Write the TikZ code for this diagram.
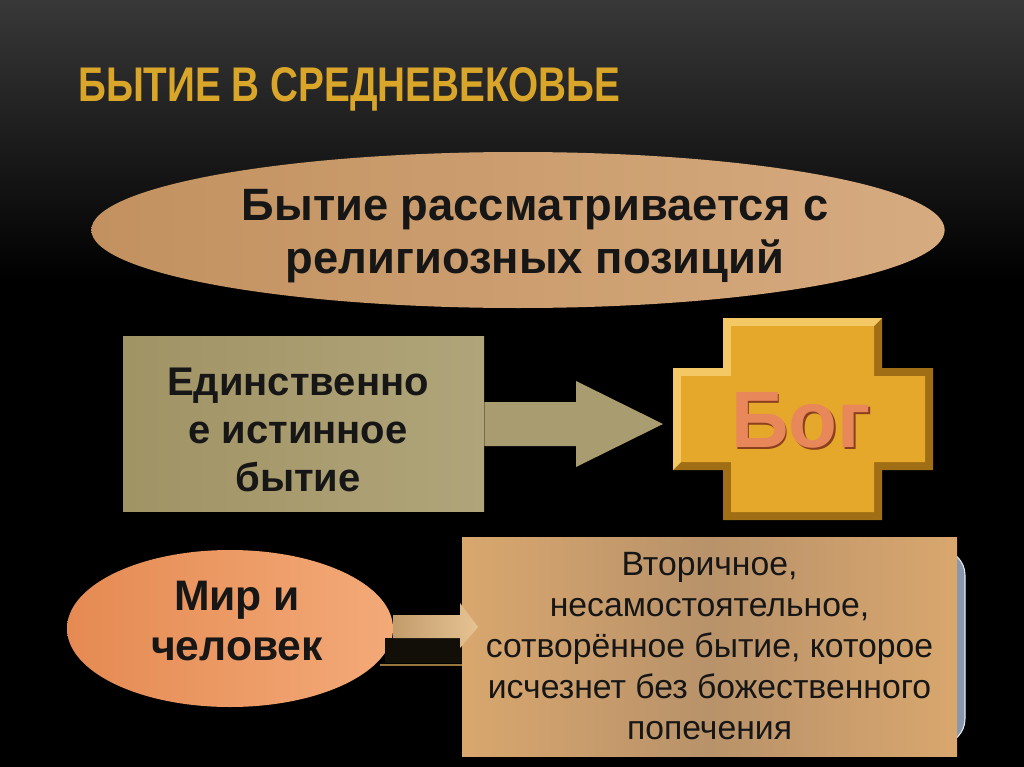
\documentclass[tikz,border=0pt]{standalone}
\usepackage{fontspec}
\setmainfont{Liberation Sans}
\usetikzlibrary{shapes.geometric,calc}
\definecolor{bgtop}{HTML}{383838}
\definecolor{titlegold}{HTML}{D9A62A}
\definecolor{ovalL}{HTML}{C2915F}
\definecolor{ovalR}{HTML}{D6AB80}
\definecolor{khakiL}{HTML}{A09465}
\definecolor{khakiR}{HTML}{B0A47A}
\definecolor{orangeL}{HTML}{E58A52}
\definecolor{orangeR}{HTML}{F3AA78}
\definecolor{tanE}{HTML}{D9A76E}
\definecolor{tanM}{HTML}{B8926A}
\definecolor{crossgold}{HTML}{E6A82B}
\definecolor{crossdark}{HTML}{A06E14}
\definecolor{crosslight}{HTML}{F3C865}
\definecolor{bogtext}{HTML}{E8875A}
\definecolor{bogdark}{HTML}{8A3F1E}
\definecolor{darktext}{HTML}{161616}
\definecolor{bluegray}{HTML}{8798AE}
\definecolor{arrowtan}{HTML}{A89C70}
\definecolor{smallL}{HTML}{C39C6C}
\definecolor{smallR}{HTML}{E6C393}
\definecolor{bandfill}{HTML}{120E08}
\definecolor{bandline}{HTML}{96783C}
\tikzset{
  boldtext/.style={font=\bfseries, text=darktext, align=center, inner sep=0pt},
  topoval/.style={ellipse, minimum width=640pt, minimum height=117pt, inner sep=0pt,
     left color=ovalL, right color=ovalR, draw=none},
  khakibox/.style={rectangle, minimum width=270.75pt, minimum height=131.25pt, inner sep=0pt,
     left color=khakiL, right color=khakiR, draw=none},
  orangeoval/.style={ellipse, minimum width=244.5pt, minimum height=117.75pt, inner sep=0pt,
     left color=orangeL, right color=orangeR, draw=none},
  tanbox/.style={rectangle, minimum width=371.25pt, minimum height=164.25pt, inner sep=0pt,
     left color=tanE, right color=tanE, middle color=tanM, draw=none,
     align=center, text=darktext},
}
\begin{document}
\begin{tikzpicture}[x=0.75pt, y=-0.75pt]
\useasboundingbox (0,0) rectangle (1024,767);
% background
\fill[black] (0,0) rectangle (1024,767);
\shade[top color=bgtop, bottom color=black] (0,0) rectangle (1024,280);
% title
\node[anchor=base west, inner sep=0pt, text=titlegold, font=\fontsize{36.5pt}{40pt}\selectfont\bfseries]
  (title) at (78,101) {\scalebox{0.795}[1]{БЫТИЕ В СРЕДНЕВЕКОВЬЕ}};
% top oval
\node[topoval] (oval) at (518,230) {};
\node[boldtext, font=\fontsize{34pt}{40pt}\selectfont\bfseries] (ovaltext) at (535,236)
  {Бытие рассматривается с\\религиозных позиций};
% left box
\node[khakibox] (box) at (303.5,424) {};
\node[boldtext, font=\fontsize{30pt}{36pt}\selectfont\bfseries] (boxtext) at (298,430)
  {Единственно\\е истинное\\бытие};
% cross
\fill[crossdark] (723,318) -- (882,318) -- (882,368) -- (933,368) -- (933,470) -- (882,470)
  -- (882,520) -- (723,520) -- (723,470) -- (673,470) -- (673,368) -- (723,368) -- cycle;
\fill[crosslight] (723,318) -- (882,318) -- (874,326) -- (731,326) -- (731,376) -- (681,376)
  -- (681,462) -- (673,470) -- (673,368) -- (723,368) -- cycle;
\fill[crossgold] (731,326) -- (874,326) -- (874,376) -- (925,376) -- (925,462) -- (874,462)
  -- (874,512) -- (731,512) -- (731,462) -- (681,462) -- (681,376) -- (731,376) -- cycle;
\coordinate (crossW) at (673,424);
\node[inner sep=0pt, text=bogdark, font=\fontsize{60pt}{64pt}\selectfont\bfseries] at (802.5,422) {Бог};
\node[inner sep=0pt, text=bogtext, font=\fontsize{60pt}{64pt}\selectfont\bfseries] (bog) at (801,420.5) {Бог};
% big arrow
\coordinate (ahead) at (576,424);
\coordinate (tip) at ($(crossW)+(-10,0)$);
\fill[arrowtan] ($(box.east)+(0,-22)$) -- ($(ahead)+(0,-22)$) -- ($(ahead)+(0,-43)$) -- (tip)
  -- ($(ahead)+(0,43)$) -- ($(ahead)+(0,22)$) -- ($(box.east)+(0,22)$) -- cycle;
% bottom oval
\node[orangeoval] (world) at (230,628.5) {};
\node[boldtext, font=\fontsize{32pt}{37.5pt}\selectfont\bfseries] (worldtext) at (237,621)
  {Мир и\\человек};
% blue back card
\fill[bluegray, rounded corners=18.75pt] (700,550) rectangle (965,744);
\draw[white!80!bluegray, line width=0.8pt, rounded corners=18.75pt] (930,550) -- (965,550) -- (965,744) -- (930,744);
% bottom box
\node[tanbox, font=\fontsize{25.3pt}{30.75pt}\selectfont] (desc) at (709.5,646.5)
  {Вторичное,\\несамостоятельное,\\сотворённое бытие, которое\\исчезнет без божественного\\попечения};
% dark band under small arrow
\fill[bandfill] (385,638) rectangle (desc.west |- 0,663);
\draw[bandline, line width=1.2pt] (380,665) -- (desc.west |- 0,665);
% small arrow
\coordinate (sa) at (world.east |- 0,627);
\coordinate (sh) at (460,627);
\coordinate (st) at (478,627);
\shade[left color=smallL, right color=smallR] ($(sa)+(0,-12)$) -- ($(sh)+(0,-12)$) -- ($(sh)+(0,-24)$)
  -- (st) -- ($(sh)+(0,21)$) -- ($(sh)+(0,11)$) -- ($(sa)+(0,11)$) -- cycle;
\end{tikzpicture}
\end{document}
